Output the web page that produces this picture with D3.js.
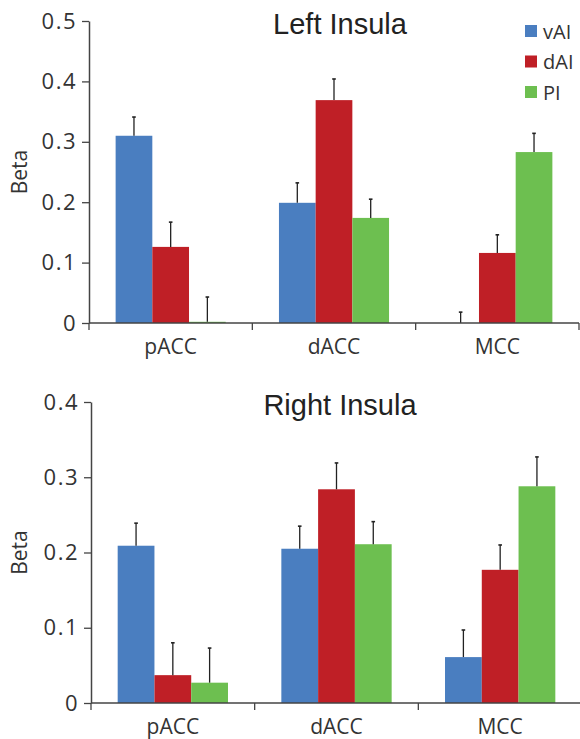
<!DOCTYPE html>
<html>
<head>
<meta charset="utf-8">
<script src="https://cdn.jsdelivr.net/npm/d3@7"></script>
<style>
  html, body { margin: 0; padding: 0; background: #fff; }
  svg { display: block; }
</style>
</head>
<body>
<svg id="chart" width="580" height="739"></svg>
<script>
// ---- DATA ----
const categories = ["pACC", "dACC", "MCC"];
const seriesNames = ["vAI", "dAI", "PI"];
const seriesColors = ["#4a7ec0", "#bf1f26", "#6dbf50"];

// Left Insula
const leftVAI = [0.310, 0.199, 0.000];
const leftDAI = [0.126, 0.369, 0.116];
const leftPI  = [0.002, 0.174, 0.283];
const leftVAIErr = [0.031, 0.033, 0.018];
const leftDAIErr = [0.041, 0.035, 0.030];
const leftPIErr  = [0.041, 0.031, 0.031];
const leftTicks = [0, 0.1, 0.2, 0.3, 0.4, 0.5];
const leftTickLabels = ["0", "0.1", "0.2", "0.3", "0.4", "0.5"];

// Right Insula
const rightVAI = [0.209, 0.205, 0.061];
const rightDAI = [0.037, 0.284, 0.177];
const rightPI  = [0.027, 0.211, 0.288];
const rightVAIErr = [0.030, 0.030, 0.036];
const rightDAIErr = [0.043, 0.035, 0.033];
const rightPIErr  = [0.046, 0.030, 0.039];
const rightTicks = [0, 0.1, 0.2, 0.3, 0.4];
const rightTickLabels = ["0", "0.1", "0.2", "0.3", "0.4"];

const svg = d3.select("#chart");
const labelFont = "'Open Sans', 'Noto Sans', sans-serif";
const titleFont = "'Liberation Sans', Arial, sans-serif";

function drawPanel(opts) {
  const { x0, x1, yTop, yBottom, yMax, title, titleY, values, errors, ticks, tickLabels, legend } = opts;
  const g = svg.append("g");

  const x = d3.scaleBand().domain(categories).range([x0, x1])
    .paddingInner(0.326).paddingOuter(0.163);
  const xs = d3.scaleBand().domain(seriesNames).range([0, x.bandwidth()]);
  const y = d3.scaleLinear().domain([0, yMax]).range([yBottom, yTop]);

  // bars
  seriesNames.forEach((s, si) => {
    const gs = g.append("g");
    categories.forEach((c, ci) => {
      const v = values[si][ci];
      const bx = x(c) + xs(s);
      gs.append("rect")
        .attr("x", bx)
        .attr("y", y(v))
        .attr("width", xs.bandwidth())
        .attr("height", Math.max(0, y(0) - y(v)))
        .attr("fill", seriesColors[si]);
    });
  });

  // error bars
  seriesNames.forEach((s, si) => {
    categories.forEach((c, ci) => {
      const v = values[si][ci];
      const e = errors[si][ci];
      const cx = x(c) + xs(s) + xs.bandwidth() / 2;
      g.append("line")
        .attr("x1", cx).attr("x2", cx)
        .attr("y1", y(v)).attr("y2", y(v + e))
        .attr("stroke", "#222").attr("stroke-width", 1.3);
      g.append("line")
        .attr("x1", cx - 1.8).attr("x2", cx + 1.8)
        .attr("y1", y(v + e)).attr("y2", y(v + e))
        .attr("stroke", "#222").attr("stroke-width", 1.6);
    });
  });

  // y axis
  const yAxis = d3.axisLeft(y).tickValues(ticks)
    .tickFormat((d, i) => tickLabels[i]).tickSize(7).tickSizeOuter(0).tickPadding(5);
  const ya = g.append("g").attr("transform", `translate(${x0},0)`).call(yAxis);
  ya.select(".domain").attr("stroke", "#444").attr("stroke-width", 1.5);
  ya.selectAll(".tick line").attr("stroke", "#444").attr("stroke-width", 1.3);
  ya.selectAll(".tick text")
    .attr("font-family", labelFont).attr("font-size", 22)
    .attr("letter-spacing", "1.5px")
    .attr("fill", "#333");

  // x axis
  const xa = g.append("g").attr("transform", `translate(0,${yBottom})`);
  xa.append("line").attr("x1", x0).attr("x2", x1).attr("y1", 0).attr("y2", 0)
    .attr("stroke", "#444").attr("stroke-width", 1.5);
  const bounds = [x0].concat(categories.map(c => x(c) + x.bandwidth() + x.step() * 0.163));
  bounds.forEach(b => {
    xa.append("line").attr("x1", b).attr("x2", b).attr("y1", 0).attr("y2", 7)
      .attr("stroke", "#444").attr("stroke-width", 1.3);
  });
  categories.forEach(c => {
    xa.append("text")
      .attr("x", x(c) + x.bandwidth() / 2)
      .attr("y", 31)
      .attr("text-anchor", "middle")
      .attr("font-family", labelFont).attr("font-size", 21)
      .attr("fill", "#333")
      .text(c);
  });

  // y label
  g.append("text")
    .attr("transform", `translate(27,${(yTop + yBottom) / 2}) rotate(-90)`)
    .attr("text-anchor", "middle")
    .attr("font-family", labelFont).attr("font-size", 21)
    .attr("fill", "#333")
    .text("Beta");

  // title
  g.append("text")
    .attr("x", 340).attr("y", titleY)
    .attr("text-anchor", "middle")
    .attr("font-family", titleFont).attr("font-size", 29)
    .attr("fill", "#222")
    .text(title);

  // legend
  if (legend) {
    seriesNames.forEach((s, i) => {
      const ly = 31 + i * 30.5;
      g.append("rect").attr("x", 525).attr("y", ly - 6).attr("width", 12).attr("height", 12)
        .attr("fill", seriesColors[i]);
      g.append("text").attr("x", 543).attr("y", ly + 7.5)
        .attr("font-family", labelFont).attr("font-size", 20)
        .attr("fill", "#333").text(s);
    });
  }
}

drawPanel({
  x0: 89, x1: 579, yTop: 21, yBottom: 323, yMax: 0.5,
  title: "Left Insula", titleY: 34,
  values: [leftVAI, leftDAI, leftPI],
  errors: [leftVAIErr, leftDAIErr, leftPIErr],
  ticks: leftTicks, tickLabels: leftTickLabels, legend: true
});

drawPanel({
  x0: 91, x1: 582, yTop: 402, yBottom: 703, yMax: 0.4,
  title: "Right Insula", titleY: 415,
  values: [rightVAI, rightDAI, rightPI],
  errors: [rightVAIErr, rightDAIErr, rightPIErr],
  ticks: rightTicks, tickLabels: rightTickLabels, legend: false
});
</script>
</body>
</html>
